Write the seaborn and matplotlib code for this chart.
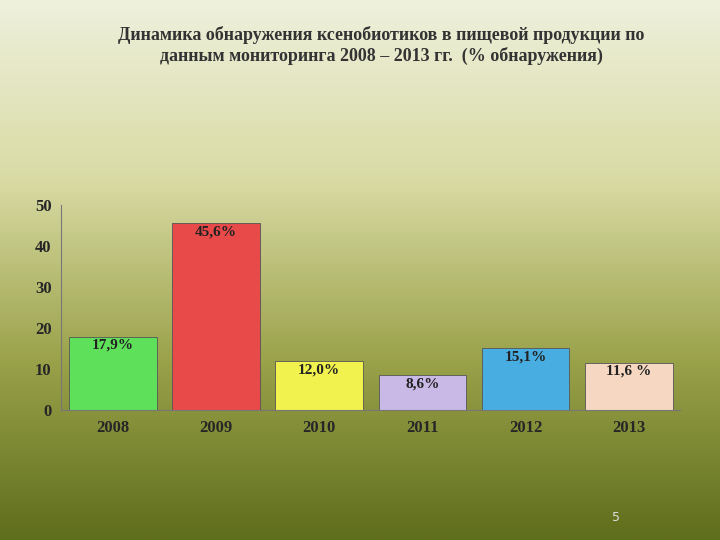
import numpy as np
import pandas as pd
import matplotlib
matplotlib.use("Agg")
import matplotlib.pyplot as plt
import seaborn as sns
from matplotlib.colors import LinearSegmentedColormap

years = ["2008", "2009", "2010", "2011", "2012", "2013"]
values = [17.9, 45.6, 12.0, 8.6, 15.1, 11.6]
labels = ["17,9%", "45,6%", "12,0%", "8,6%", "15,1%", "11,6 %"]
colors = ["#5fe05a", "#e84a4a", "#f2f24e", "#c9b9e6", "#48aee2", "#f6d8c2"]

title = ("Динамика обнаружения ксенобиотиков в пищевой продукции по\n"
         "данным мониторинга 2008 – 2013 гг.  (% обнаружения)")

sns.set_style("white")
plt.rcParams["font.family"] = ["Liberation Serif", "DejaVu Serif"]

fig = plt.figure(figsize=(7.2, 5.4), dpi=100)

# background gradient
bg = fig.add_axes([0, 0, 1, 1], zorder=-1)
cmap = LinearSegmentedColormap.from_list("bg", ["#eef0dc", "#d9dba4", "#9aa24a", "#5f6e1c"])
grad = np.linspace(0, 1, 256).reshape(-1, 1)
bg.imshow(grad, aspect="auto", cmap=cmap, extent=[0, 1, 0, 1], origin="upper")
bg.axis("off")

fig.text(0.53, 0.915, title, ha="center", va="center", fontsize=13,
         fontweight="bold", color="#333333")

ax = fig.add_axes([0.085, 0.24, 0.86, 0.38])
ax.patch.set_alpha(0)
df = pd.DataFrame({"year": years, "value": values})
sns.barplot(data=df, x="year", y="value", hue="year", palette=colors,
            saturation=1, legend=False, ax=ax, width=0.85,
            edgecolor="#555555", linewidth=0.6)
for i, (v, lab) in enumerate(zip(values, labels)):
    ax.text(i, v - 0.5, lab, ha="center", va="top", fontsize=11,
            fontweight="bold", color="#222222")
ax.set_ylim(0, 50)
ax.set_yticks(range(0, 51, 10))
ax.tick_params(axis="both", labelsize=12)
for t in ax.get_yticklabels() + ax.get_xticklabels():
    t.set_fontweight("bold")
ax.set_xlabel("")
ax.set_ylabel("")
for s in ["top", "right"]:
    ax.spines[s].set_visible(False)
ax.spines["left"].set_color("#777777")
ax.spines["bottom"].set_color("#777777")

fig.text(0.855, 0.035, "5", ha="center", fontsize=9, color="#dddddd",
         family="DejaVu Sans")

fig.savefig("out.png", dpi=100)
